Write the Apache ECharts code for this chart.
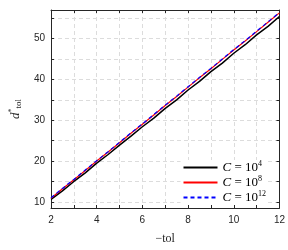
<!DOCTYPE html>
<html><head><meta charset="utf-8">
<script src="https://cdn.jsdelivr.net/npm/echarts@6/dist/echarts.min.js"></script>
<style>html,body{margin:0;padding:0;background:#fff}#c{width:288px;height:250px}</style>
</head><body><div id="c"></div>
<script>
const tolValues = [2,2.5,3,3.5,4,4.5,5,5.5,6,6.5,7,7.5,8,8.5,9,9.5,10,10.5,11,11.5,12];
const dC4  = [10.6,12.7,15.0,17.1,19.5,21.6,23.9,26.1,28.4,30.5,32.9,35.0,37.4,39.5,41.9,44.0,46.4,48.5,50.9,53.0,55.4];
const dC8  = [10.9,13.2,15.4,17.7,20.0,22.2,24.5,26.8,29.0,31.3,33.6,35.8,38.1,40.4,42.6,44.9,47.2,49.4,51.7,54.0,56.3];
const dC12 = [11.0,13.3,15.5,17.8,20.1,22.3,24.6,26.9,29.1,31.4,33.7,35.9,38.2,40.5,42.7,45.0,47.3,49.5,51.8,54.1,56.4];
const xTicks = [2,3,4,5,6,7,8,9,10,11,12];
const xLabels = [2,4,6,8,10,12];
const yTicks = [10,15,20,25,30,35,40,45,50,55];
const yLabels = [10,20,30,40,50];
const seriesNames = ['C4','C8','C12'];
const exps = {C4:'4',C8:'8',C12:'12'};

const chart = echarts.init(document.getElementById('c'));
const pair = arr => tolValues.map((x,i)=>[x,arr[i]]);
const axisCol = '#262626';
const grid = {lineStyle:{color:'#dcdcdc',type:[4,3],width:1}};
chart.setOption({
  animation:false,
  grid:{left:29,right:7,top:10,bottom:31,show:false},
  xAxis:[{type:'value',min:2,max:12,
    name:'−tol',nameLocation:'middle',nameGap:25,
    nameTextStyle:{fontFamily:'Liberation Serif',fontSize:12,color:axisCol},
    axisLine:{show:true,lineStyle:{color:axisCol,width:1}},
    axisTick:{show:true,inside:true,length:3,customValues:xTicks,lineStyle:{color:axisCol}},
    axisLabel:{customValues:xLabels,fontFamily:'Liberation Sans',fontSize:10,color:axisCol,margin:7},
    splitLine:{show:true,...grid}},
   {type:'value',min:2,max:12,position:'top',
    axisLine:{show:true,lineStyle:{color:axisCol,width:1}},
    axisTick:{show:true,inside:true,length:3,customValues:xTicks,lineStyle:{color:axisCol}},
    axisLabel:{show:false},splitLine:{show:false}}],
  yAxis:[{type:'value',min:8.5,max:57,
    name:'{d|d}{s|*}{t|tol}',nameLocation:'middle',nameGap:20,nameRotate:90,
    nameTextStyle:{rich:{
      d:{fontFamily:'Liberation Serif',fontStyle:'italic',fontSize:13,color:axisCol},
      s:{fontFamily:'Liberation Serif',fontSize:8,color:axisCol,padding:[0,0,7,0]},
      t:{fontFamily:'Liberation Serif',fontSize:9,color:axisCol,padding:[6,0,0,0]}}},
    axisLine:{show:true,lineStyle:{color:axisCol,width:1}},
    axisTick:{show:true,inside:true,length:3,customValues:yTicks,lineStyle:{color:axisCol}},
    axisLabel:{customValues:yLabels,fontFamily:'Liberation Sans',fontSize:10,color:axisCol,margin:6},
    splitLine:{show:true,...grid}},
   {type:'value',min:8.5,max:57,position:'right',
    axisLine:{show:true,lineStyle:{color:axisCol,width:1}},
    axisTick:{show:true,inside:true,length:3,customValues:yTicks,lineStyle:{color:axisCol}},
    axisLabel:{show:false},splitLine:{show:false}}],
  legend:{orient:'vertical',right:20,bottom:45,itemWidth:34,itemHeight:10,itemGap:0,
    backgroundColor:'#fff',padding:[0,2,0,2],
    itemStyle:{opacity:0},
    data:seriesNames,
    formatter:n=>'{c|C}{e| = 10}{p|'+exps[n]+'}',
    textStyle:{lineHeight:13,rich:{
      c:{fontFamily:'Liberation Serif',fontStyle:'italic',fontSize:13,lineHeight:13,color:'#000'},
      e:{fontFamily:'Liberation Serif',fontSize:13,lineHeight:13,color:'#000'},
      p:{fontFamily:'Liberation Serif',fontSize:8,lineHeight:13,color:'#000',padding:[0,0,7,0]}}}},
  series:[
    {name:'C4',type:'line',data:pair(dC4),symbol:'none',lineStyle:{color:'#000',width:1.5},itemStyle:{color:'#000'}},
    {name:'C8',type:'line',data:pair(dC8),symbol:'none',lineStyle:{color:'#ff0000',width:1.2},itemStyle:{color:'#ff0000'}},
    {name:'C12',type:'line',data:pair(dC12),symbol:'none',lineStyle:{color:'#0000ff',width:1.2,type:[4,3]},itemStyle:{color:'#0000ff'}}
  ]
});
</script></body></html>
